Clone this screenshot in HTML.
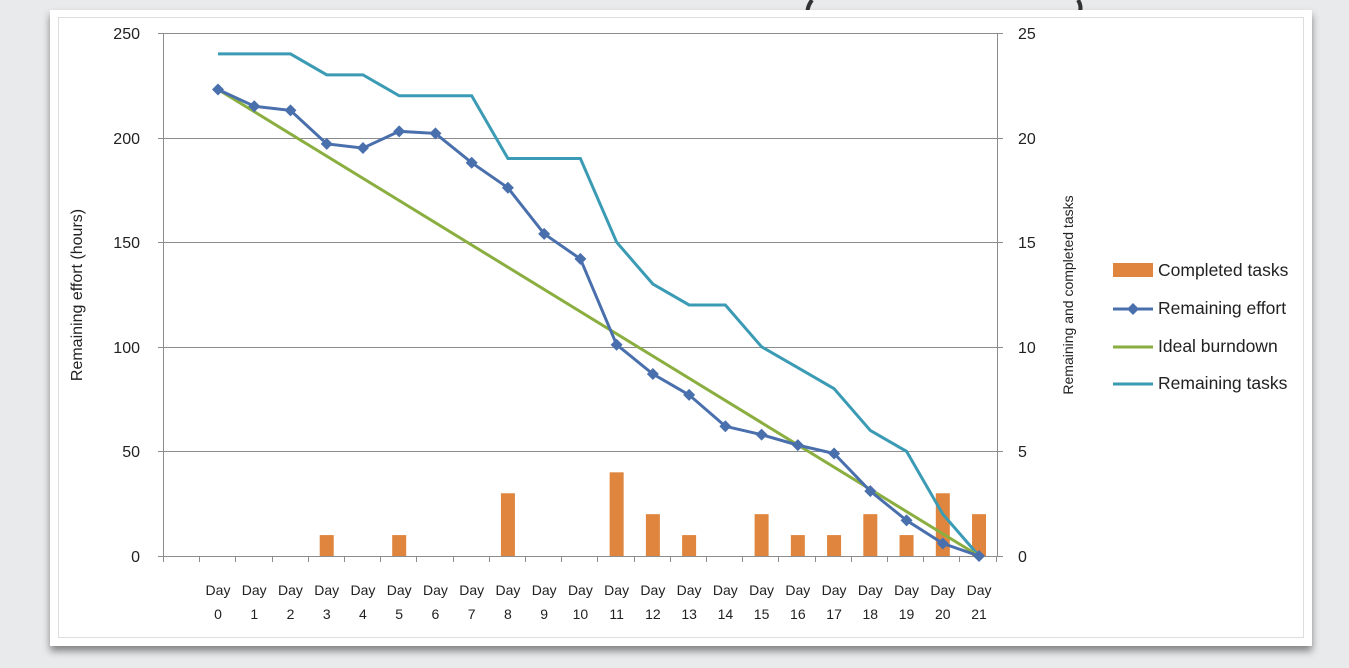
<!DOCTYPE html>
<html><head><style>
body{margin:0;width:1349px;height:663px;background:#e9eaec;overflow:hidden;font-family:"Liberation Sans",sans-serif;}
</style></head><body>
<svg width="1349" height="663" xmlns="http://www.w3.org/2000/svg" font-family="Liberation Sans, sans-serif">
<defs><filter id="sh" x="-5%" y="-5%" width="110%" height="115%"><feDropShadow dx="0" dy="5" stdDeviation="4" flood-color="#000" flood-opacity="0.45"/></filter></defs>
<rect x="0" y="0" width="1349" height="663" fill="#e9eaec"/>
<path d="M812 0 Q806 8 808 16" stroke="#333" stroke-width="4" fill="none"/>
<path d="M1078 0 Q1083 8 1078 16" stroke="#333" stroke-width="4" fill="none"/>
<rect x="50" y="10" width="1262" height="636" fill="#fff" filter="url(#sh)"/>
<rect x="58.5" y="17.5" width="1245" height="620" fill="none" stroke="#ddd"/>
<g stroke="#8c8c8c" stroke-width="1">
<line x1="163" y1="33.5" x2="998" y2="33.5"/>
<line x1="163" y1="138.5" x2="998" y2="138.5"/>
<line x1="163" y1="242.5" x2="998" y2="242.5"/>
<line x1="163" y1="347.5" x2="998" y2="347.5"/>
<line x1="163" y1="451.5" x2="998" y2="451.5"/>
<line x1="163" y1="556.5" x2="998" y2="556.5"/>
<line x1="163.5" y1="33" x2="163.5" y2="556"/>
<line x1="997.5" y1="33" x2="997.5" y2="556"/>
<line x1="158" y1="33.5" x2="163" y2="33.5"/><line x1="158" y1="138.5" x2="163" y2="138.5"/><line x1="158" y1="242.5" x2="163" y2="242.5"/><line x1="158" y1="347.5" x2="163" y2="347.5"/><line x1="158" y1="451.5" x2="163" y2="451.5"/><line x1="158" y1="556.5" x2="163" y2="556.5"/>
<line x1="998" y1="33.5" x2="1003" y2="33.5"/><line x1="998" y1="138.5" x2="1003" y2="138.5"/><line x1="998" y1="242.5" x2="1003" y2="242.5"/><line x1="998" y1="347.5" x2="1003" y2="347.5"/><line x1="998" y1="451.5" x2="1003" y2="451.5"/><line x1="998" y1="556.5" x2="1003" y2="556.5"/>
</g>
<g id="ticks" stroke="#8c8c8c"></g>
<g font-size="16" fill="#222" text-anchor="end">
<text x="140" y="39">250</text><text x="140" y="144">200</text><text x="140" y="248">150</text><text x="140" y="353">100</text><text x="140" y="457">50</text><text x="140" y="562">0</text>
</g>
<g font-size="16" fill="#222" text-anchor="start">
<text x="1018" y="39">25</text><text x="1018" y="144">20</text><text x="1018" y="248">15</text><text x="1018" y="353">10</text><text x="1018" y="457">5</text><text x="1018" y="562">0</text>
</g>
<text transform="translate(82,295) rotate(-90)" font-size="16" fill="#222" text-anchor="middle">Remaining effort (hours)</text>
<text transform="translate(1073,295) rotate(-90)" font-size="14" fill="#222" text-anchor="middle">Remaining and completed tasks</text>
<g id="bars" fill="#e0853d"></g>
<g id="lines"></g>
<g id="labels" font-size="14" fill="#222" text-anchor="middle"></g>
<g font-size="17.5" fill="#222">
<rect x="1113" y="263" width="40" height="14" fill="#e0853d"/><text x="1158" y="276">Completed tasks</text>
<line x1="1113" y1="309" x2="1153" y2="309" stroke="#4a6fad" stroke-width="3"/><path d="M1133 303 L1139 309 L1133 315 L1127 309Z" fill="#4a6fad"/><text x="1158" y="314">Remaining effort</text>
<line x1="1113" y1="347" x2="1153" y2="347" stroke="#8aae3f" stroke-width="3"/><text x="1158" y="352">Ideal burndown</text>
<line x1="1113" y1="384" x2="1153" y2="384" stroke="#3b9bb5" stroke-width="3"/><text x="1158" y="389">Remaining tasks</text>
</g>
</svg>
<script>
var ns="http://www.w3.org/2000/svg";
function X(i){return 218+i*36.24;}
function Y(v){return 556-v*2.092;}
function el(t,a,p){var e=document.createElementNS(ns,t);for(var k in a)e.setAttribute(k,a[k]);document.getElementById(p).appendChild(e);return e;}
for(var i=0;i<=23;i++){var x=Math.round(163+i*36.2)+0.5;el("line",{x1:x,y1:556,x2:x,y2:562},"ticks");}
var comp=[0,0,0,1,0,1,0,0,3,0,0,4,2,1,0,2,1,1,2,1,3,2];
comp.forEach(function(c,i){if(c)el("rect",{x:X(i)-7,y:556-c*20.92,width:14,height:c*20.92},"bars");});
var eff=[223,215,213,197,195,203,202,188,176,154,142,101,87,77,62,58,53,49,31,17,6,0];
var tasks=[24,24,24,23,23,22,22,22,19,19,19,15,13,12,12,10,9,8,6,5,2,0];
function pts(a,s){return a.map(function(v,i){return X(i)+","+Y(v*s)}).join(" ");}
el("polyline",{points:pts(tasks,10),fill:"none",stroke:"#3b9bb5","stroke-width":3},"lines");
el("line",{x1:X(0),y1:Y(223),x2:X(21),y2:Y(0),stroke:"#8aae3f","stroke-width":3},"lines");
el("polyline",{points:pts(eff,1),fill:"none",stroke:"#4a6fad","stroke-width":3},"lines");
eff.forEach(function(v,i){var x=X(i),y=Y(v);el("path",{d:"M"+x+" "+(y-6)+"L"+(x+6)+" "+y+"L"+x+" "+(y+6)+"L"+(x-6)+" "+y+"Z",fill:"#4a6fad"},"lines");});
for(var i=0;i<22;i++){var t=el("text",{x:X(i),y:595},"labels");t.textContent="Day";var t2=el("text",{x:X(i),y:619},"labels");t2.textContent=i;}
</script>
</body></html>
